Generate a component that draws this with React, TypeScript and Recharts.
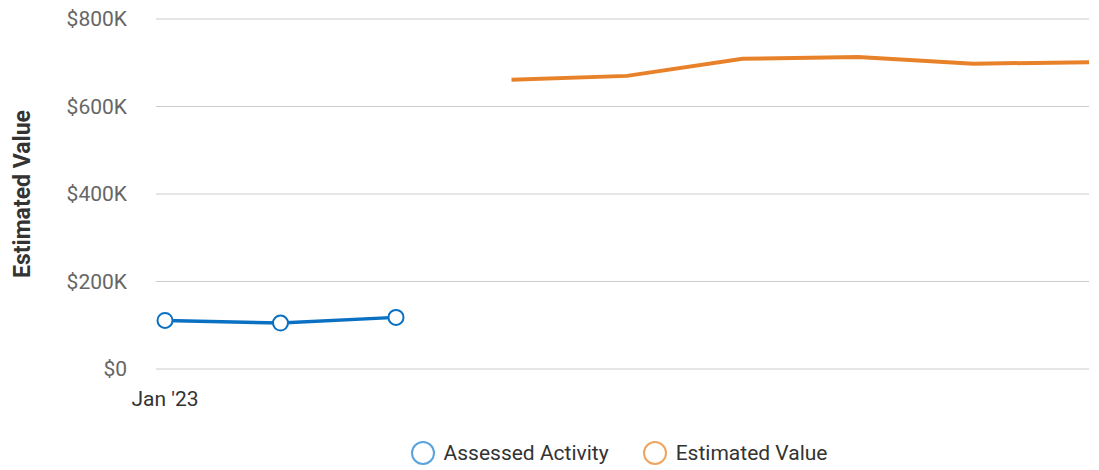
import React from 'react';
import { LineChart, Line, XAxis, YAxis, CartesianGrid, Legend } from 'recharts';

const months = ["Jan '23", "Feb '23", "Mar '23", "Apr '23", "May '23", "Jun '23", "Jul '23", "Aug '23", "Sep '23"];
const assessedActivity = [111000, 105000, 118000, null, null, null, null, null, null];
const estimatedValue = [null, null, null, 661000, 670000, 709000, 713000, 698000, 701000];
const yTicks = [0, 200000, 400000, 600000, 800000];

const data = months.map((month, i) => ({
  month,
  assessed: assessedActivity[i],
  estimated: estimatedValue[i],
}));

const legendItems = [
  { label: 'Assessed Activity', color: '#5ba3dc' },
  { label: 'Estimated Value', color: '#f0a460' },
];

// legend sits roughly centred over the plot area, not the whole chart
function ChartLegend() {
  return (
    <div
      style={{
        display: 'flex',
        justifyContent: 'center',
        alignItems: 'center',
        height: 34,
        gap: 33,
        paddingLeft: 148,
      }}
    >
      {legendItems.map((item) => (
        <div key={item.label} style={{ display: 'flex', alignItems: 'center', gap: 8 }}>
          <svg width={26} height={26}>
            <circle cx={13} cy={13} r={11} fill="none" stroke={item.color} strokeWidth={2} />
          </svg>
          <span style={{ fontSize: 21, color: '#333' }}>{item.label}</span>
        </div>
      ))}
    </div>
  );
}

const formatMoney = (v: number) => (v === 0 ? '$0' : `$${v / 1000}K`);

export default function App() {
  return (
    <div style={{ position: 'absolute', left: 0, top: 0, fontFamily: 'Roboto, sans-serif' }}>
      <LineChart width={1099} height={470} data={data} margin={{ top: 19, right: 10, left: 0, bottom: 0 }}>
        <CartesianGrid vertical={false} stroke="#cccccc" />
        <XAxis
          dataKey="month"
          axisLine={false}
          tickLine={false}
          tickSize={0}
          tickMargin={22}
          height={67}
          padding={{ left: 9, right: 0 }}
          interval={0}
          tickFormatter={(v: string, i: number) => (i === 0 ? v : '')}
          tick={{ fill: '#333', fontSize: 21 }}
        />
        <YAxis
          width={156}
          domain={[0, 800000]}
          ticks={yTicks}
          axisLine={false}
          tickLine={false}
          tickSize={0}
          tickMargin={29}
          tickFormatter={formatMoney}
          tick={{ fill: '#666', fontSize: 21 }}
          label={({ viewBox }: any) => (
            <text
              x={viewBox.x + 22}
              y={viewBox.y + viewBox.height / 2}
              transform={`rotate(-90, ${viewBox.x + 22}, ${viewBox.y + viewBox.height / 2})`}
              textAnchor="middle"
              dominantBaseline="central"
              fill="#333"
              fontSize={23}
              fontWeight="bold"
            >
              Estimated Value
            </text>
          )}
        />
        <Legend verticalAlign="bottom" content={<ChartLegend />} />
        <Line
          dataKey="assessed"
          stroke="#0a70c2"
          strokeWidth={3.5}
          dot={{ r: 7.5, fill: '#fff', stroke: '#0a70c2', strokeWidth: 2 }}
          activeDot={false}
          isAnimationActive={false}
        />
        <Line
          dataKey="estimated"
          stroke="#e8822a"
          strokeWidth={4}
          dot={false}
          activeDot={false}
          isAnimationActive={false}
        />
      </LineChart>
    </div>
  );
}
